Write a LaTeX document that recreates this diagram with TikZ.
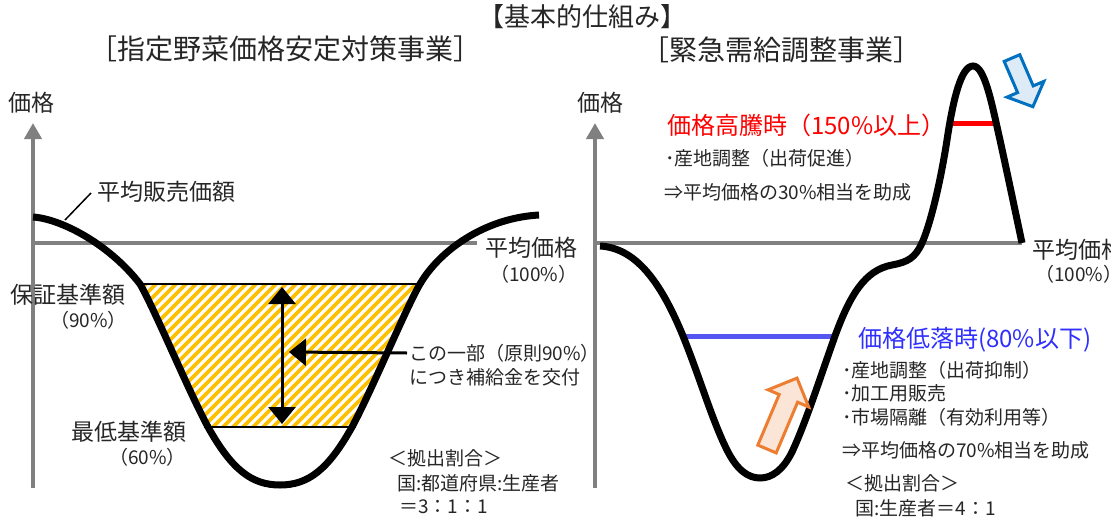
\documentclass[tikz,border=0pt]{standalone}
\usepackage{fontspec}
\setmainfont{Noto Sans CJK JP}
\usetikzlibrary{arrows.meta}
\definecolor{axisgray}{HTML}{808080}
\definecolor{hatchc}{HTML}{FFC000}
\definecolor{txt}{HTML}{262626}
\definecolor{upred}{HTML}{FF0000}
\definecolor{downblue}{HTML}{2F2FFF}
\definecolor{blueline}{HTML}{5555F2}
\definecolor{arrblue}{HTML}{0070C0}
\definecolor{arrbluefill}{HTML}{DDEBF7}
\definecolor{arrorange}{HTML}{ED7D31}
\definecolor{arrorangefill}{HTML}{FBE5D6}
\begin{document}
\begin{tikzpicture}[x=1pt,y=-1pt,
  lbl/.style={inner sep=0pt, anchor=west, text=txt, font=\fontsize{23}{25}\selectfont},
  smalllbl/.style={lbl, font=\fontsize{19}{21}\selectfont},
  titlelbl/.style={inner sep=0pt, text=txt, font=\fontsize{28}{30}\selectfont},
  axisline/.style={draw=axisgray, line width=4pt, -{Triangle[length=16pt,width=17pt]}},
  baseline/.style={draw=axisgray, line width=4pt},
  curve/.style={draw=black, line width=7pt},
  levelline/.style={draw=black, line width=2.5pt},
  stripe/.style={draw=hatchc, line width=3.6pt},
  dblarrow/.style={draw=black, line width=3pt, {Triangle[length=17pt,width=27pt]}-{Triangle[length=17pt,width=27pt]}},
  ptarrow/.style={draw=black, line width=3pt, -{Triangle[length=17pt,width=27pt]}},
  leader/.style={draw=black, line width=1.5pt},
  blockarrow/.style={line width=3pt, line join=miter}
]
\useasboundingbox (0,0) rectangle (1111,525);

% ---------- titles ----------
\node[titlelbl, font=\fontsize{26}{28}\selectfont] (title) at (582,17) {【基本的仕組み】};
\node[titlelbl] (subL) at (285,49) {［指定野菜価格安定対策事業］};
\node[titlelbl] (subR) at (781,50) {［緊急需給調整事業］};

% ---------- left panel ----------
\node[lbl] (yL) at (8,103) {価格};
\coordinate (axLbot) at (33,488);
\coordinate (axLtop) at (33,123);
\draw[axisline] (axLbot) -- (axLtop);
\coordinate (baseLa) at (33,243);
\coordinate (baseLb) at (477,243);
\draw[baseline] (baseLa) -- (baseLb);

% hatch
\begin{scope}
  \clip (33,217) .. controls (62,219) and (110,245) .. (140,284)
    .. controls (155,310) and (188,390) .. (208,427)
    .. controls (232,470) and (252,485) .. (280,485)
    .. controls (308,485) and (328,470) .. (352,427)
    .. controls (372,390) and (405,310) .. (420,284)
    .. controls (440,250) and (485,218) .. (539,215) -- cycle;
  \clip (0,284) rectangle (1111,427);
  \foreach \k in {-120,-110,...,460} \draw[stripe] (\k,440) -- (\k+170,270);
\end{scope}
\coordinate (g90a) at (138,284);
\coordinate (g90b) at (424,284);
\coordinate (g60a) at (204,427);
\coordinate (g60b) at (356,427);
\draw[levelline] (g90a) -- (g90b);
\draw[levelline] (g60a) -- (g60b);

\draw[curve] (33,217) .. controls (62,219) and (110,245) .. (140,284)
    .. controls (155,310) and (188,390) .. (208,427)
    .. controls (232,470) and (252,485) .. (280,485)
    .. controls (308,485) and (328,470) .. (352,427)
    .. controls (372,390) and (405,310) .. (420,284)
    .. controls (440,250) and (485,218) .. (539,215);

\coordinate (atop) at (282,287);
\coordinate (abot) at (282,424);
\draw[dblarrow] (atop) -- (abot);

\node[lbl] (sales) at (97,192) {平均販売価額};
\coordinate (salespt) at (65,220);
\draw[leader] (salespt) -- ([xshift=-6pt,yshift=-1pt]sales.west);

\node[lbl] (avgL) at (485,248) {平均価格};
\node[smalllbl] (avgLp) at (490,274) {（100\%）};
\node[lbl] (g90) at (10,295) {保証基準額};
\node[smalllbl] (g90p) at (50,320) {（90\%）};
\node[lbl] (g60) at (71,432) {最低基準額};
\node[smalllbl] (g60p) at (109,457) {（60\%）};

\node[smalllbl] (note1) at (409,353) {この一部（原則90\%）};
\node[smalllbl] (note2) at (409,377) {につき補給金を交付};
\coordinate (harrow) at (289,352);
\draw[ptarrow] ([xshift=-2pt]note1.west) -- (harrow);

\node[smalllbl] (shareL) at (388,458) {＜拠出割合＞};
\node[smalllbl] (shareL1) at (397,483) {国:都道府県:生産者};
\node[smalllbl] (shareL2) at (399,507) {＝3：1：1};

% ---------- right panel ----------
\node[lbl] (yR) at (577,103) {価格};
\coordinate (axRbot) at (595,488);
\coordinate (axRtop) at (595,123);
\draw[axisline] (axRbot) -- (axRtop);
\coordinate (baseRa) at (595,243);
\coordinate (baseRb) at (1022,243);
\draw[baseline] (baseRa) -- (baseRb);

\coordinate (redA) at (950,123);
\coordinate (redB) at (998,123);
\draw[draw=upred, line width=5pt] (redA) -- (redB);
\coordinate (blueA) at (683,336);
\coordinate (blueB) at (836,336);
\draw[draw=blueline, line width=5pt] (blueA) -- (blueB);

\draw[curve] (600,246) .. controls (635,248) and (660,280) .. (683,336)
  .. controls (700,378) and (712,420) .. (727,450)
  .. controls (737,470) and (748,478) .. (760,478)
  .. controls (772,478) and (783,470) .. (792,452)
  .. controls (806,422) and (820,378) .. (835,336)
  .. controls (850,295) and (865,270) .. (892,265)
  .. controls (908,262) and (915,258) .. (922,243)
  .. controls (930,225) and (940,185) .. (947,140)
  .. controls (953,100) and (961,66) .. (973,66)
  .. controls (985,66) and (992,105) .. (1000,140)
  .. controls (1007,172) and (1015,210) .. (1022,243);

% block arrows
\draw[blockarrow, draw=arrblue, fill=arrbluefill] (1019.8,54.7) -- (1033.2,85.9) -- (1043.8,81.4) -- (1032.9,106.7) -- (1007.0,97.1) -- (1017.6,92.6) -- (1004.2,61.4) -- cycle;
\draw[blockarrow, draw=arrorange, fill=arrorangefill] (757.8,445.1) -- (779.2,394.5) -- (768.1,389.8) -- (797.0,378.1) -- (808.7,407.0) -- (797.6,402.2) -- (776.2,452.9) -- cycle;

\node[lbl, text=upred, font=\fontsize{24}{26}\selectfont] (high) at (667,125) {価格高騰時（150\%以上）};
\node[smalllbl] (high1) at (665,158) {･産地調整（出荷促進）};
\node[smalllbl] (high2) at (664,192) {⇒平均価格の30\%相当を助成};

\node[lbl, text=downblue, font=\fontsize{24}{26}\selectfont] (low) at (858,340) {価格低落時(80\%以下)};
\node[smalllbl] (low1) at (842,370) {･産地調整（出荷抑制）};
\node[smalllbl] (low2) at (842,393) {･加工用販売};
\node[smalllbl] (low3) at (842,417) {･市場隔離（有効利用等）};
\node[smalllbl] (low4) at (842,450) {⇒平均価格の70\%相当を助成};
\node[smalllbl] (shareR) at (845,483) {＜拠出割合＞};
\node[smalllbl] (shareR1) at (855,508) {国:生産者＝4：1};

\node[lbl] (avgR) at (1032,250) {平均価格};
\node[smalllbl] (avgRp) at (1035,274) {（100\%）};
\end{tikzpicture}
\end{document}
